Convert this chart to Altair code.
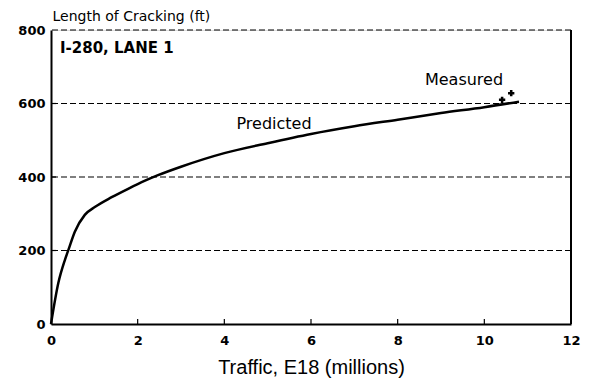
import altair as alt
import pandas as pd

# Predicted curve
pred_x = [0, 0.17, 0.32, 0.40, 0.55, 0.78, 1.02, 1.40, 1.78, 2.17, 2.47, 3.0, 4.0,
          5.0, 6.0, 7.0, 8.0, 9.0, 10.0, 10.8]
pred_y = [0, 112, 174, 201, 251, 297, 319, 345, 368, 390, 405, 428, 465,
          492, 517, 538, 556, 574, 590, 605]

# Measured points
meas_x = [10.41, 10.62]
meas_y = [610, 628]

x_ticks = [0, 2, 4, 6, 8, 10, 12]
y_ticks = [0, 200, 400, 600, 800]
grid_y = [200, 400, 600, 800]
inner_ticks_x = [2, 4, 6, 8, 10]
inner_ticks_y = [200, 400, 600]

pred = pd.DataFrame({"x": pred_x, "y": pred_y})
meas = pd.DataFrame({"x": meas_x, "y": meas_y})
grid = pd.DataFrame({"y": grid_y})
tks = pd.DataFrame({"x": inner_ticks_x})
tksy = pd.DataFrame({"y": inner_ticks_y})
border = pd.DataFrame({"x": [12]})

FONT = "DejaVu Sans"
xs = alt.Scale(domain=[0, 12], nice=False, zero=False)
ys = alt.Scale(domain=[0, 800], nice=False)

xa = alt.Axis(
    values=x_ticks, title="Traffic, E18 (millions)", grid=False, ticks=False,
    domainColor="black", domainWidth=2, labelFont=FONT, labelFontSize=13,
    labelFontWeight="bold",
    labelColor="black", labelPadding=10, labelFlush=False,
    titleFont="Liberation Sans", titleFontSize=20, titleFontWeight="normal",
    titleColor="black", titleY=49, titleBaseline="alphabetic")
ya = alt.Axis(
    values=y_ticks, title="Length of Cracking (ft)", grid=False, ticks=False,
    domainColor="black", domainWidth=2, labelFont=FONT, labelFontSize=13,
    labelFontWeight="bold",
    labelColor="black", labelPadding=6, labelFlush=False,
    titleFont=FONT, titleFontSize=14, titleFontWeight="normal", titleColor="black",
    titleAngle=0, titleAlign="left", titleBaseline="alphabetic", titleX=1, titleY=-10)

X = lambda: alt.X("x:Q", scale=xs, axis=xa)
Y = lambda: alt.Y("y:Q", scale=ys, axis=ya)

line = alt.Chart(pred).mark_line(color="black", strokeWidth=2.5, interpolate="monotone").encode(
    x=X(), y=Y()
)

grid_rules = alt.Chart(grid).mark_rule(color="black", strokeWidth=1.2, strokeDash=[6, 3]).encode(
    y=Y()
)

right_border = alt.Chart(border).mark_rule(color="black", strokeWidth=2).encode(
    x=X(), y=alt.value(0), y2=alt.value(294)
)

ticks = alt.Chart(tks).mark_rule(color="black", strokeWidth=1.2).encode(
    x=X(), y=alt.value(294), y2=alt.value(289)
)

ticks_y = alt.Chart(tksy).mark_rule(color="black", strokeWidth=1.2).encode(
    y=Y(), x=alt.value(0), x2=alt.value(5)
)

points = alt.Chart(meas).mark_point(shape="cross", filled=True, color="black", size=40, opacity=1).encode(
    x=X(), y=Y()
)

def label(text, x, y, align="center", weight="normal", size=16):
    return alt.Chart(pd.DataFrame({"t": [text]})).mark_text(
        font=FONT, fontSize=size, fontWeight=weight, color="black",
        align=align, baseline="alphabetic"
    ).encode(text="t:N", x=alt.value(x), y=alt.value(y))

chart = alt.layer(
    line, grid_rules, right_border, ticks, ticks_y, points,
    label("Predicted", 223, 99),
    label("Measured", 413, 55),
    label("I-280, LANE 1", 9, 23, align="left", weight="bold", size=15),
).properties(
    width=520, height=294,
    autosize=alt.AutoSizeParams(type="none"),
    padding={"left": 51, "top": 30, "right": 25, "bottom": 58},
).configure_view(stroke=None).configure(background="white")

chart.save("out.html", embed_options={"renderer": "svg", "actions": False})
